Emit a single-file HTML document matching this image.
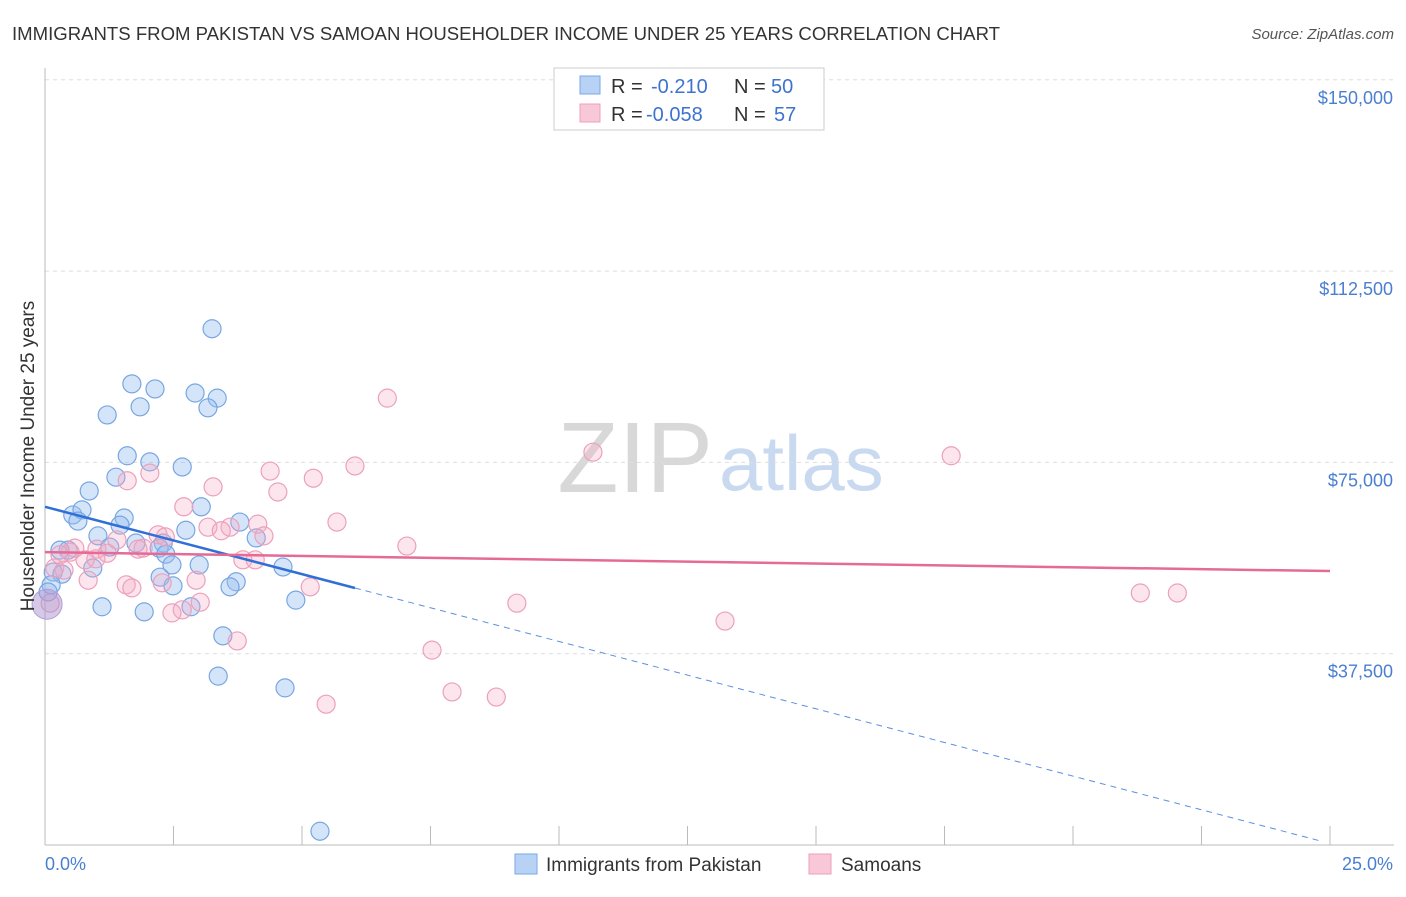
<!DOCTYPE html>
<html><head><meta charset="utf-8"><style>
body{margin:0;background:#fff;font-family:"Liberation Sans",sans-serif;}
svg text{font-family:"Liberation Sans",sans-serif;}
</style></head><body>
<svg id="c" width="1406" height="892">
<text x="12" y="40" font-size="18" fill="#333" textLength="988" lengthAdjust="spacingAndGlyphs">IMMIGRANTS FROM PAKISTAN VS SAMOAN HOUSEHOLDER INCOME UNDER 25 YEARS CORRELATION CHART</text>
<text x="1394" y="39" font-size="15" fill="#555" text-anchor="end" font-style="italic">Source: ZipAtlas.com</text>
<text x="713" y="492" font-size="100" fill="#d8d8d8" text-anchor="end" font-family="Liberation Serif">ZIP</text>
<text x="719" y="490" font-size="78" fill="#c9daf0">atlas</text>
<g id="grid"></g><g id="pts"></g><g id="lines"></g>
<text transform="translate(34,456) rotate(-90)" font-size="19" fill="#333" text-anchor="middle">Householder Income Under 25 years</text>
<text x="45" y="870" font-size="18" fill="#4a7fd0">0.0%</text>
<text x="1393" y="870" font-size="18" fill="#4a7fd0" text-anchor="end">25.0%</text>
<g>
<rect x="554" y="68" width="270" height="62" fill="#fff" stroke="#ccc"/>
<rect x="580" y="76" width="20" height="18" fill="#b8d2f5" stroke="#7aa8e8"/>
<rect x="580" y="104" width="20" height="18" fill="#f9c8d8" stroke="#eea0b8"/>
<text x="611" y="93" font-size="20" fill="#333">R =</text>
<text x="651" y="93" font-size="20" fill="#3d73d0">-0.210</text>
<text x="734" y="93" font-size="20" fill="#333">N =</text>
<text x="771" y="93" font-size="20" fill="#3d73d0">50</text>
<text x="611" y="121" font-size="20" fill="#333">R =</text>
<text x="646" y="121" font-size="20" fill="#3d73d0">-0.058</text>
<text x="734" y="121" font-size="20" fill="#333">N =</text>
<text x="774" y="121" font-size="20" fill="#3d73d0">57</text>
</g>
<g>
<rect x="515" y="854" width="22" height="20" fill="#b8d2f5" stroke="#7aa8e8"/>
<text x="546" y="871" font-size="19" fill="#333">Immigrants from Pakistan</text>
<rect x="809" y="854" width="22" height="20" fill="#f9c8d8" stroke="#eea0b8"/>
<text x="841" y="871" font-size="19" fill="#333">Samoans</text>
</g>
</svg>
<script>
const yTicks=[37500,75000,112500,150000];
const yTickLabels=["$37,500","$75,000","$112,500","$150,000"];
const blueX=[3.25,1.69,2.14,2.92,3.35,1.85,3.17,1.21,1.60,2.04,2.67,1.38,0.86,3.04,0.54,0.72,0.64,1.54,1.46,3.79,2.74,1.03,1.77,2.30,1.26,2.22,4.11,2.35,0.45,0.29,2.47,3.00,4.63,0.93,0.16,0.33,2.24,3.72,3.60,2.49,0.12,0.06,4.88,1.11,1.93,2.84,3.46,3.37,4.67,5.35];
const blueY=[101.2,90.4,89.4,88.6,87.6,85.9,85.7,84.3,76.3,75.1,74.1,72.1,69.4,66.3,64.7,65.7,63.5,64.1,62.7,63.3,61.7,60.6,59.2,59.2,58.4,58.2,60.2,57.0,57.8,57.8,54.9,54.9,54.5,54.3,53.5,53.1,52.5,51.6,50.6,50.8,51.0,49.6,48.0,46.7,45.7,46.7,41.0,33.1,30.8,2.7];
const pinkX=[6.66,10.66,17.63,6.03,4.38,5.22,1.60,2.04,4.53,3.27,2.70,5.68,4.14,3.60,3.17,3.43,4.26,2.20,1.40,2.34,7.04,1.01,1.91,0.49,1.81,0.29,0.78,0.99,3.85,4.09,0.19,0.84,2.94,1.58,1.69,2.28,5.16,3.02,9.18,2.67,2.47,13.23,3.74,7.53,7.92,8.78,5.47,21.31,22.03,0.10,0.37,1.21,0.58];
const pinkY=[87.6,77.0,76.3,74.3,73.3,71.9,71.4,72.9,69.2,70.2,66.3,63.3,62.9,62.3,62.3,61.6,60.6,60.8,59.8,60.4,58.6,58.0,58.2,57.4,58.0,56.9,55.9,56.1,55.9,55.9,54.3,51.9,51.9,51.0,50.4,51.4,50.6,47.6,47.4,46.1,45.5,43.9,40.0,38.2,30.0,29.0,27.6,49.4,49.4,47.4,53.9,57.2,58.2];
const blueTrend=[66.3,-2.64]; const pinkTrend=[57.4,53.7];
const xs=p=>45+p/25*1285, ys=k=>845-k*1000/37500*191.3;
const NS="http://www.w3.org/2000/svg";
function mk(t,a,parent){const e=document.createElementNS(NS,t);for(const k in a)e.setAttribute(k,a[k]);document.getElementById(parent).appendChild(e);return e;}
yTicks.forEach((v,i)=>{const y=ys(v/1000);
 let l=mk('line',{x1:45,x2:1394,y1:y,y2:y,stroke:'#ddd','stroke-dasharray':'4,4'},'grid');
 
 
 let t=mk('text',{x:1393,y:y+24,'font-size':18,fill:'#4a7fd0','text-anchor':'end'},'grid');t.textContent=yTickLabels[i];
 
 });
let ax=mk('line',{x1:45,x2:45,y1:68,y2:845,stroke:'#bbb'},'grid');


let bx=mk('line',{x1:45,x2:1394,y1:845,y2:845,stroke:'#bbb'},'grid');


for(let i=0;i<=10;i++){let t=mk('line',{x1:xs(i*2.5),x2:xs(i*2.5),y1:826,y2:845,stroke:'#bbb'},'grid');
 
 }
function dots(X,Y,fill,st,name){X.forEach((x,i)=>{let c=mk('circle',{cx:xs(x),cy:ys(Y[i]),r:9,fill:fill,stroke:st,'stroke-width':1.2},'pts');
 
 });}
dots(blueX,blueY,'rgba(150,190,240,0.4)','#78a6e2','pakistan-point');
dots(pinkX,pinkY,'rgba(245,170,195,0.3)','#eca0bb','samoan-point');
let big=mk('circle',{cx:xs(0.04),cy:ys(47.2),r:15,fill:'rgba(170,150,210,0.5)',stroke:'#b49ad8'},'pts');


const bEnd=6.03;
let b1=mk('line',{x1:xs(0),y1:ys(blueTrend[0]),x2:xs(bEnd),y2:ys(blueTrend[0]+blueTrend[1]*bEnd),stroke:'#2f6fd6','stroke-width':2.5},'lines');


let b2=mk('line',{x1:xs(bEnd),y1:ys(blueTrend[0]+blueTrend[1]*bEnd),x2:xs(24.8),y2:ys(blueTrend[0]+blueTrend[1]*24.8),stroke:'#5b8fe0','stroke-width':1,'stroke-dasharray':'6,5'},'lines');


let p1=mk('line',{x1:xs(0),y1:ys(pinkTrend[0]),x2:xs(25),y2:ys(pinkTrend[1]),stroke:'#e56a96','stroke-width':2.5},'lines');


</script>
</body></html>
